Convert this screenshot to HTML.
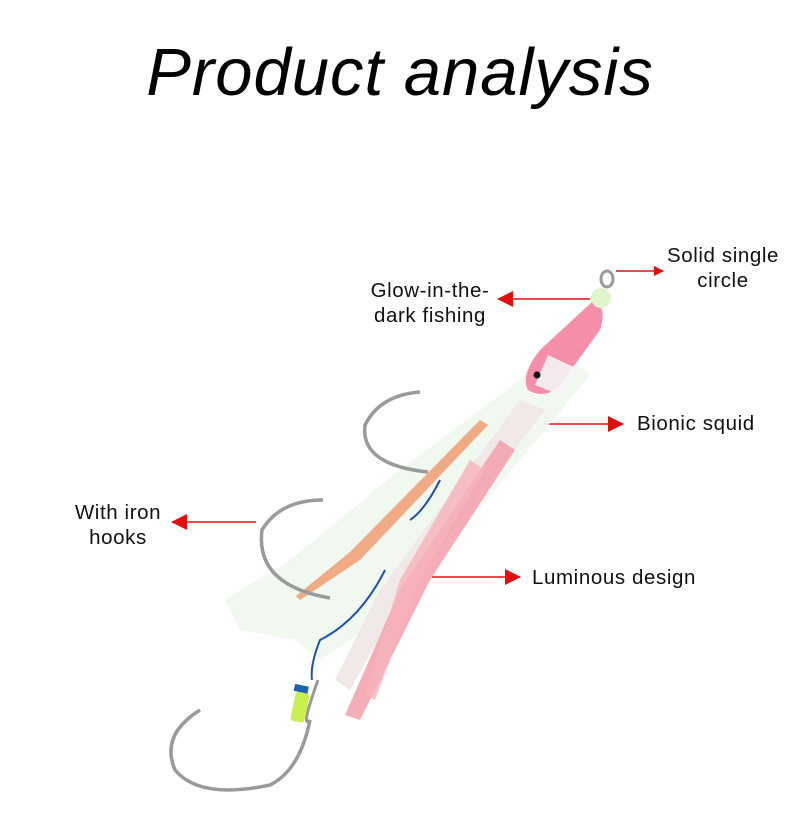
<!DOCTYPE html>
<html><head><style>
html,body{margin:0;padding:0;background:#fff}
body{width:790px;height:821px;position:relative;overflow:hidden;font-family:"Liberation Sans","DejaVu Sans",sans-serif}
.t{position:absolute;color:#111;font-size:20.5px;line-height:25px;letter-spacing:0.6px}
h1{position:absolute;left:0;width:800px;top:34px;margin:0;text-align:center;font-weight:normal;font-style:italic;font-size:67px;letter-spacing:1px;color:#000}
</style></head><body>
<h1>Product analysis</h1>
<div class="t" style="left:660px;top:243px;text-align:center;width:126px">Solid single<br>circle</div>
<div class="t" style="left:360px;top:278px;text-align:center;width:140px">Glow-in-the-<br>dark fishing</div>
<div class="t" style="left:637px;top:411px">Bionic squid</div>
<div class="t" style="left:66px;top:500px;text-align:center;width:104px">With iron<br>hooks</div>
<div class="t" style="left:532px;top:565px">Luminous design</div>
<svg width="790" height="821" style="position:absolute;left:0;top:0">
<defs><marker id="a" markerWidth="10" markerHeight="10" refX="9" refY="5" orient="auto" markerUnits="userSpaceOnUse"><path d="M0,0 L10,5 L0,10z" fill="#e01010"/></marker>
<marker id="b" markerWidth="16" markerHeight="16" refX="15" refY="8" orient="auto" markerUnits="userSpaceOnUse"><path d="M0,0 L16,8 L0,16z" fill="#e01010"/></marker></defs>
<g stroke="#e01010" stroke-width="1.5" fill="none">
<line x1="616" y1="271" x2="663" y2="271" marker-end="url(#a)"/>
<line x1="590" y1="299" x2="498" y2="299" marker-end="url(#b)"/>
<line x1="543" y1="424" x2="623" y2="424" marker-end="url(#b)"/>
<line x1="256" y1="522" x2="172" y2="522" marker-end="url(#b)"/>
<line x1="432" y1="577" x2="520" y2="577" marker-end="url(#b)"/>
</g>
<path d="M560,350 L590,375 L470,520 L380,620 L320,660 L295,640 L240,630 L225,600 L290,560 L400,470 Z" fill="#eef7ee" opacity=".9"/>
<path d="M520,400 L545,410 L460,520 L395,610 L350,690 L335,680 L380,590 Z" fill="#f1e8e8"/>
<path d="M500,440 L515,450 L430,580 L360,720 L345,715 L400,590 Z" fill="#f39aa6" opacity=".8"/>
<path d="M470,460 L485,470 L420,580 L375,700 L365,695 L400,580 Z" fill="#f6b3bc" opacity=".8"/>
<path d="M480,420 L488,425 L360,560 L300,600 L296,596 L350,552 Z" fill="#f08a58" opacity=".7"/>
<path d="M592,302 Q608,305 600,330 L560,385 Q545,400 528,390 Q520,375 540,350 Z" fill="#f58ea8"/>
<path d="M548,355 L580,370 L560,395 L535,385 Z" fill="#f4f4f4" opacity=".9"/>
<circle cx="537" cy="375" r="3.5" fill="#111"/>
<circle cx="601" cy="298" r="10" fill="#dff5cc"/>
<ellipse cx="607" cy="279" rx="6" ry="8" fill="none" stroke="#999" stroke-width="3"/>
<g fill="none" stroke="#9a9a9a" stroke-width="3.5">
<path d="M420,392 Q380,395 365,425 Q360,465 428,472"/>
<path d="M323,500 Q280,500 262,530 Q255,585 330,598"/>
<path d="M310,720 Q300,770 270,785 Q200,800 175,770 Q160,735 200,710"/>
</g>
<path d="M318,680 Q300,730 310,720" stroke="#999" stroke-width="3" fill="none"/>
<path d="M385,570 Q360,620 320,640 Q310,665 312,680" stroke="#2050b0" stroke-width="2" fill="none"/>
<path d="M440,480 Q425,510 410,520" stroke="#2050b0" stroke-width="2" fill="none"/>
<rect x="293" y="692" width="14" height="30" rx="3" fill="#c8f050" transform="rotate(12 300 707)"/>
<rect x="294" y="685" width="14" height="7" fill="#2060b0" transform="rotate(12 300 690)"/>
</svg>
</body></html>
